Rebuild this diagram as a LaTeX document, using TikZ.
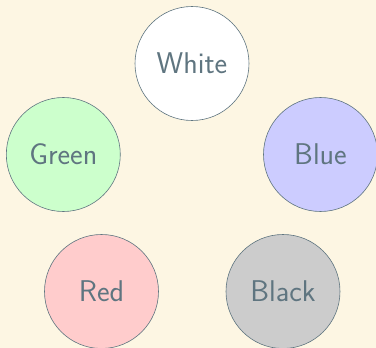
\documentclass[tikz,border=0pt]{standalone}
\definecolor{bg}{HTML}{FDF6E3}
\definecolor{ink}{HTML}{5F7580}
\begin{document}
\begin{tikzpicture}[x=1pt,y=-1pt,
  ball/.style={circle,draw=ink,line width=0.6pt,minimum size=114pt,inner sep=0pt,
    text=ink,font=\sffamily\fontsize{30}{33}\selectfont}]
\fill[bg] (0,0) rectangle (376,348);
\useasboundingbox (0,0) rectangle (376,348);
\node[ball,fill=white] (white) at (192,63.5) {White};
\node[ball,fill=green!20] (green) at (63.3,154.5) {Green};
\node[ball,fill=blue!20] (blue) at (320.5,154.5) {Blue};
\node[ball,fill=red!20] (red) at (101.5,291.5) {Red};
\node[ball,fill=black!20] (black) at (283,291.5) {Black};
\end{tikzpicture}
\end{document}
